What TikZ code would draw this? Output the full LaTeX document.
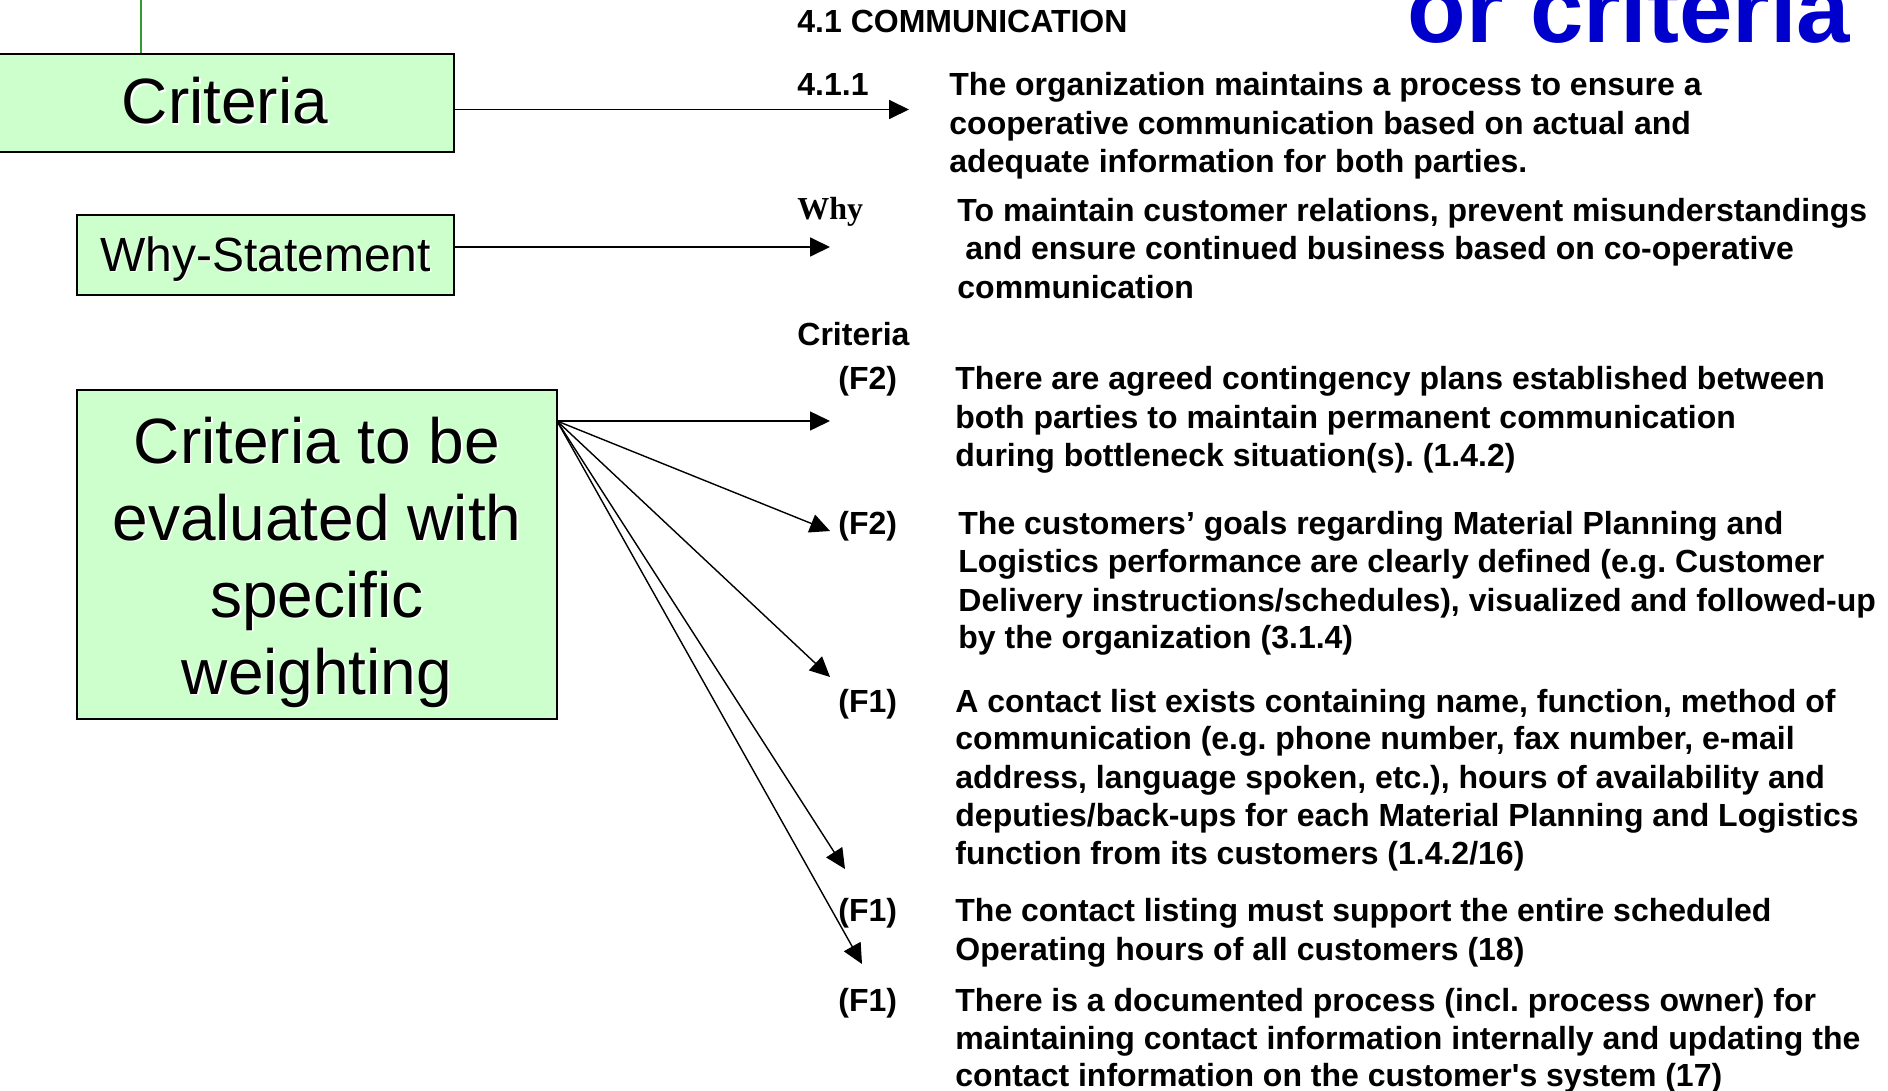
\documentclass[tikz,border=0pt]{standalone}
\usepackage{fontspec}
\setmainfont{Liberation Sans}
\newfontfamily\timesfont{Liberation Serif}
\usetikzlibrary{arrows.meta}
\frenchspacing
\definecolor{boxgreen}{HTML}{CCFFCC}
\definecolor{linegreen}{HTML}{339933}
\definecolor{titleblue}{HTML}{0000CC}
\newcommand\shadowed[1]{\makebox[0pt][l]{\raisebox{-0.9pt}{\hspace{0.9pt}\textcolor{white}{#1}}}#1}
\tikzset{
  greenbox/.style={draw=black, line width=1pt, fill=boxgreen, inner sep=0pt},
  boxtext/.style={inner sep=0pt, anchor=base, font=\fontsize{32}{38.5}\selectfont},
  tx/.style={font=\bfseries\fontsize{16}{19.2}\selectfont, inner sep=0pt, anchor=base west},
  conn/.style={-{Triangle[length=10pt,width=9.5pt]}, line width=0.9pt},
  fan/.style={-{Triangle[length=10pt,width=9.5pt]}, line width=0.7pt},
}
\newcommand\txline[4]{\node[tx] (#1) at (#2,#3) {#4};}
\begin{document}
\begin{tikzpicture}[x=0.5pt,y=-0.5pt]
\useasboundingbox (0,0) rectangle (1888,1091);
\clip (0,0) rectangle (1888,1091);

% title fragment
\node[font=\bfseries\fontsize{48}{48}\selectfont, text=titleblue, anchor=base west, inner sep=0pt] (title) at (1407,43) {or criteria};

% green line from top
\coordinate (gtop) at (141,0);

% boxes
\node[greenbox, minimum width=229pt, minimum height=49pt] (crit) at (225,103) {};
\node[greenbox, minimum width=188.5pt, minimum height=40pt] (why) at (265.5,255) {};
\node[greenbox, minimum width=240pt, minimum height=164.5pt] (big) at (317,554.5) {};

\node[boxtext] (crittxt) at (225,124) {\shadowed{Criteria}};
\node[boxtext, font=\fontsize{24}{28.8}\selectfont] (whytxt) at (265.5,271) {\shadowed{Why-Statement}};
\node[boxtext] (bt1) at (317,463) {\shadowed{Criteria to be}};
\node[boxtext] (bt2) at (317,540) {\shadowed{evaluated with}};
\node[boxtext] (bt3) at (317,617) {\shadowed{specific}};
\node[boxtext] (bt4) at (317,694) {\shadowed{weighting}};

\draw[linegreen, line width=0.7pt] (gtop) -- (gtop |- crit.north);

% arrow tips
\coordinate (t0) at (909,109.5);
\coordinate (tw) at (830,247);
\coordinate (t1) at (830,421);
\coordinate (t2) at (830,531);
\coordinate (t3) at (830,677);
\coordinate (t4) at (845,869);
\coordinate (t5) at (862,964);
\coordinate (fs) at (557,421);

\draw[conn] (crit.east |- t0) -- (t0);
\draw[conn] (why.east |- tw) -- (tw);
\draw[fan] (fs) -- (t1);
\draw[fan] (fs) -- (t2);
\draw[fan] (fs) -- (t3);
\draw[fan] (fs) -- (t4);
\draw[fan] (fs) -- (t5);

% texts
\txline{hdr}{797}{33}{4.1 COMMUNICATION}
\txline{n411}{797}{96}{4.1.1}
\txline{a1}{949}{96}{The organization maintains a process to ensure a}
\txline{a2}{949}{134.5}{cooperative communication based on actual and}
\txline{a3}{949}{173}{adequate information for both parties.}

\node[font=\timesfont\bfseries\fontsize{16}{19.2}\selectfont, inner sep=0pt, anchor=base west] (whylbl) at (797,220) {Why};
\txline{w1}{957}{221}{To maintain customer relations, prevent misunderstandings}
\txline{w2}{965}{259.5}{and ensure continued business based on co-operative}
\txline{w3}{957}{298}{communication}

\txline{critlbl}{797}{345}{Criteria}

\txline{fa}{838}{389.6}{(F2)}
\txline{b1}{955}{389.6}{There are agreed contingency plans established between}
\txline{b2}{955}{428}{both parties to maintain permanent communication}
\txline{b3}{955}{466.7}{during bottleneck situation(s). (1.4.2)}

\txline{fb}{838}{534}{(F2)}
\txline{c1}{958}{534}{The customers’ goals regarding Material Planning and}
\txline{c2}{958}{572.6}{Logistics performance are clearly defined (e.g. Customer}
\txline{c3}{958}{611}{Delivery instructions/schedules), visualized and followed-up}
\txline{c4}{958}{648.5}{by the organization (3.1.4)}

\txline{fc}{838}{712}{(F1)}
\txline{d1}{955}{712}{A contact list exists containing name, function, method of}
\txline{d2}{955}{749.6}{communication (e.g. phone number, fax number, e-mail}
\txline{d3}{955}{788}{address, language spoken, etc.), hours of availability and}
\txline{d4}{955}{826.7}{deputies/back-ups for each Material Planning and Logistics}
\txline{d5}{955}{864}{function from its customers (1.4.2/16)}

\txline{fd}{838}{921.8}{(F1)}
\txline{e1}{955}{921.8}{The contact listing must support the entire scheduled}
\txline{e2}{955}{960.3}{Operating hours of all customers (18)}

\txline{fe}{838}{1011}{(F1)}
\txline{g1}{955}{1011}{There is a documented process (incl. process owner) for}
\txline{g2}{955}{1049.4}{maintaining contact information internally and updating the}
\txline{g3}{955}{1086.8}{contact information on the customer\textquotesingle s system (17)}
\end{tikzpicture}
\end{document}
